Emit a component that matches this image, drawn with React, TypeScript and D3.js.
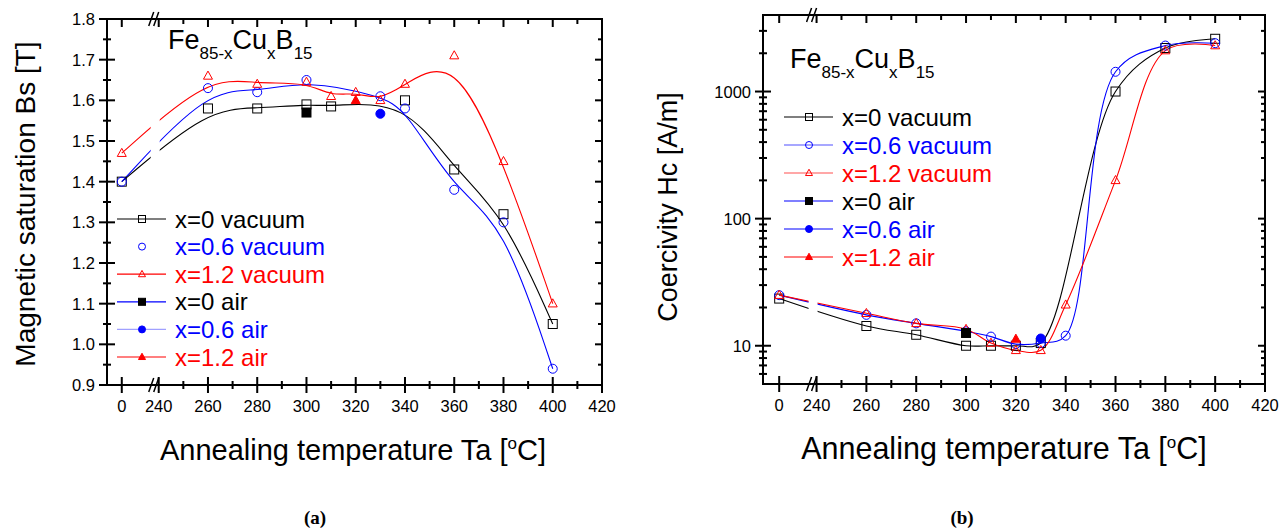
import React from 'react'
import * as d3 from 'd3'

// annealing temperatures in °C, 0 = as-quenched (drawn left of the axis break)
const xMajor = [0, 240, 260, 280, 300, 320, 340, 360, 380, 400, 420]
const xMinor = [250, 270, 290, 310, 330, 350, 370, 390, 410]

// (a) saturation Bs [T]
const bsTempX0 = [0, 260, 280, 300, 310, 340, 360, 380, 400]
const bsValX0 = [1.40, 1.58, 1.58, 1.59, 1.585, 1.60, 1.43, 1.32, 1.05]
const bsTempX06 = [0, 260, 280, 300, 330, 340, 360, 380, 400]
const bsValX06 = [1.40, 1.63, 1.62, 1.65, 1.61, 1.58, 1.38, 1.30, 0.94]
const bsTempX12 = [0, 260, 280, 300, 310, 320, 330, 340, 360, 380, 400]
const bsValX12 = [1.47, 1.66, 1.64, 1.645, 1.61, 1.62, 1.60, 1.64, 1.71, 1.45, 1.10]
const bsAirTemp = [300, 330, 320]
const bsAirVal = [1.57, 1.567, 1.60]
const bsTicks = [0.9, 1.0, 1.1, 1.2, 1.3, 1.4, 1.5, 1.6, 1.7, 1.8]
const bsMinor = [0.95, 1.05, 1.15, 1.25, 1.35, 1.45, 1.55, 1.65, 1.75]

// (b) coercivity Hc [A/m]
const hcTempX0 = [0, 260, 280, 300, 310, 320, 330, 360, 380, 400]
const hcValX0 = [23.5, 14.3, 12.2, 10, 10, 10, 10.5, 1000, 2200, 2600]
const hcTempX06 = [0, 260, 280, 300, 310, 320, 330, 340, 360, 380, 400]
const hcValX06 = [25, 17.5, 15, 13, 11.8, 10.3, 10.5, 12, 1430, 2300, 2400]
const hcTempX12 = [0, 260, 280, 300, 310, 320, 330, 340, 360, 380, 400]
const hcValX12 = [25, 18, 15, 13.5, 10.5, 9.2, 9.2, 21, 200, 2100, 2300]
const hcAirTemp = [300, 330, 320]
const hcAirVal = [12.6, 11.4, 11.3]
const hcTicks = [10, 100, 1000]
const hcMinor = [6, 7, 8, 9, 20, 30, 40, 50, 60, 70, 80, 90, 200, 300, 400, 500, 600, 700, 800, 900, 2000, 3000]

const legendLabels = ['x=0 vacuum', 'x=0.6 vacuum', 'x=1.2 vacuum', 'x=0 air', 'x=0.6 air', 'x=1.2 air']

const FONT = '"Liberation Sans", Arial, sans-serif'
const BLUE = '#0000ff'
const RED = '#ff0000'

type Mark = 'square' | 'circle' | 'triangle'

function Marker({ type, cx, cy, s, color, filled }: { type: Mark; cx: number; cy: number; s: number; color: string; filled: boolean }) {
  const fill = filled ? color : 'none'
  if (type === 'square')
    return <rect x={cx - s / 2} y={cy - s / 2} width={s} height={s} fill={fill} stroke={color} strokeWidth={1} />
  if (type === 'circle')
    return <circle cx={cx} cy={cy} r={s / 2} fill={fill} stroke={color} strokeWidth={1} />
  const h = s * 0.9
  return <polygon points={`${cx},${cy - h * 0.6} ${cx - s / 2},${cy + h * 0.4} ${cx + s / 2},${cy + h * 0.4}`} fill={fill} stroke={color} strokeWidth={1} />
}

type Series = { temps: number[]; vals: number[]; color: string; mark: Mark; filled: boolean; line: boolean }
type LegendRow = { line: string | null; mark: Mark; mcolor: string; tcolor: string; filled: boolean; text: string }

type PanelProps = {
  id: string
  box: { l: number; r: number; t: number; b: number }
  x0: number
  y: d3.ScaleContinuousNumeric<number, number>
  yTicks: number[]
  yMinor: number[]
  yFmt: (v: number) => string
  series: Series[]
  curve: d3.CurveFactory
  legend: LegendRow[]
  leg: { x: number; y: number; dy: number }
  title: { x: number; y: number }
  yTitle: { x: number; y: number; size: number; text: string }
  xTitle: { x: number; y: number; size: number }
  tag: { x: number; text: string }
}

function Panel(p: PanelProps) {
  const { l, r, t, b } = p.box
  const x = d3.scaleLinear().domain([p.x0, 420]).range([l, r])
  const tx = (v: number) => x(v === 0 ? 225 : v)
  const brk = x(240) - 4
  const line = d3.line<[number, number]>().x(d => tx(d[0])).y(d => p.y(d[1])).curve(p.curve)

  // tick rectangles: [x, y, w, h]
  const w = 2
  const bars: number[][] = [
    ...xMajor.flatMap(v => [[tx(v) - w / 2, b - 8, w, 16], [tx(v) - w / 2, t, w, 8]]),
    ...xMinor.flatMap(v => [[tx(v) - w / 2, b - 4, w, 8], [tx(v) - w / 2, t, w, 5]]),
    ...p.yTicks.flatMap(v => [[l - 8, p.y(v) - w / 2, 16, w], [r - 7, p.y(v) - w / 2, 7, w]]),
    ...p.yMinor.flatMap(v => [[l - 4, p.y(v) - w / 2, 8, w], [r - 4, p.y(v) - w / 2, 4, w]]),
  ]
  const slashes = [b, t].map(yy => `M${brk - 6},${yy + 7}L${brk - 1},${yy - 7}M${brk - 1},${yy + 7}L${brk + 4},${yy - 7}`).join('')

  return (
    <g fontFamily={FONT}>
      <defs>
        <clipPath id={p.id + '-clip'}>
          <rect x={l} y={t} width={brk - 4 - l} height={b - t} />
          <rect x={brk + 5} y={t} width={r - brk - 5} height={b - t} />
        </clipPath>
      </defs>

      <g clipPath={`url(#${p.id}-clip)`}>
        {p.series.filter(s => s.line).map((s, i) => (
          <path key={i} d={line(s.temps.map((tt, k) => [tt, s.vals[k]] as [number, number])) || ''} fill="none" stroke={s.color} strokeWidth={1.1} />
        ))}
      </g>
      {p.series.map((s, i) => s.temps.map((tt, k) => (
        <Marker key={i + '-' + k} type={s.mark} cx={tx(tt)} cy={p.y(s.vals[k])} s={9} color={s.color} filled={s.filled} />
      )))}

      <rect x={l} y={t} width={r - l} height={b - t} fill="none" stroke="#000" strokeWidth={2} />
      {bars.map((d, i) => (
        <rect key={'tk' + i} x={d[0]} y={d[1]} width={d[2]} height={d[3]} fill="#000" />
      ))}
      <path d={slashes} fill="none" stroke="#000" strokeWidth={1.5} />

      <g fontSize={16.5} fill="#000">
        {xMajor.map(v => (
          <text key={'xl' + v} x={tx(v)} y={b + 27} textAnchor="middle">{v}</text>
        ))}
        {p.yTicks.map(v => (
          <text key={'yl' + v} x={l - 12} y={p.y(v) + 6} textAnchor="end">{p.yFmt(v)}</text>
        ))}
      </g>

      <text x={p.title.x} y={p.title.y} fontSize={27}>
        Fe<tspan dy={10} fontSize={17}>85-x</tspan>
        <tspan dy={-10} fontSize={27}>Cu</tspan>
        <tspan dy={10} fontSize={17}>x</tspan>
        <tspan dy={-10} fontSize={27}>B</tspan>
        <tspan dy={10} fontSize={17}>15</tspan>
      </text>

      {p.legend.map((row, i) => {
        const cy = p.leg.y + i * p.leg.dy
        return (
          <g key={'lg' + i}>
            {row.line && <line x1={p.leg.x} x2={p.leg.x + 49} y1={cy} y2={cy} stroke={row.line} strokeWidth={1.2} />}
            <Marker type={row.mark} cx={p.leg.x + 25} cy={cy} s={7} color={row.mcolor} filled={row.filled} />
            <text x={p.leg.x + 58} y={cy + 8.5} fontSize={24} fill={row.tcolor}>{row.text}</text>
          </g>
        )
      })}

      <text transform={`translate(${p.yTitle.x},${p.yTitle.y}) rotate(-90)`} textAnchor="middle" fontSize={p.yTitle.size}>{p.yTitle.text}</text>
      <text x={p.xTitle.x} y={p.xTitle.y} textAnchor="middle" fontSize={p.xTitle.size}>
        Annealing temperature Ta [<tspan dy={-11} fontSize={17}>o</tspan><tspan dy={11}>C]</tspan>
      </text>
      <text x={p.tag.x} y={524} textAnchor="middle" fontSize={19} fontWeight="bold" fontFamily='"Liberation Serif", "Times New Roman", serif'>
        ({p.tag.text})
      </text>
    </g>
  )
}

export default function App() {
  const yBs = d3.scaleLinear().domain([0.9, 1.8]).range([385, 19])
  const yHc = d3.scaleLog().domain([5, 4000]).range([384, 15])

  const bsSeries: Series[] = [
    { temps: bsTempX0, vals: bsValX0, color: '#000', mark: 'square', filled: false, line: true },
    { temps: bsTempX06, vals: bsValX06, color: BLUE, mark: 'circle', filled: false, line: true },
    { temps: bsTempX12, vals: bsValX12, color: RED, mark: 'triangle', filled: false, line: true },
    { temps: [bsAirTemp[0]], vals: [bsAirVal[0]], color: '#000', mark: 'square', filled: true, line: false },
    { temps: [bsAirTemp[1]], vals: [bsAirVal[1]], color: BLUE, mark: 'circle', filled: true, line: false },
    { temps: [bsAirTemp[2]], vals: [bsAirVal[2]], color: RED, mark: 'triangle', filled: true, line: false },
  ]
  const hcSeries: Series[] = [
    { temps: hcTempX0, vals: hcValX0, color: '#000', mark: 'square', filled: false, line: true },
    { temps: hcTempX06, vals: hcValX06, color: BLUE, mark: 'circle', filled: false, line: true },
    { temps: hcTempX12, vals: hcValX12, color: RED, mark: 'triangle', filled: false, line: true },
    { temps: [hcAirTemp[0]], vals: [hcAirVal[0]], color: '#000', mark: 'square', filled: true, line: false },
    { temps: [hcAirTemp[1]], vals: [hcAirVal[1]], color: BLUE, mark: 'circle', filled: true, line: false },
    { temps: [hcAirTemp[2]], vals: [hcAirVal[2]], color: RED, mark: 'triangle', filled: true, line: false },
  ]

  const legA: LegendRow[] = [
    { line: '#000', mark: 'square', mcolor: '#000', tcolor: '#000', filled: false, text: legendLabels[0] },
    { line: null, mark: 'circle', mcolor: BLUE, tcolor: BLUE, filled: false, text: legendLabels[1] },
    { line: RED, mark: 'triangle', mcolor: RED, tcolor: RED, filled: false, text: legendLabels[2] },
    { line: BLUE, mark: 'square', mcolor: '#000', tcolor: '#000', filled: true, text: legendLabels[3] },
    { line: '#a0a0ff', mark: 'circle', mcolor: BLUE, tcolor: BLUE, filled: true, text: legendLabels[4] },
    { line: RED, mark: 'triangle', mcolor: RED, tcolor: RED, filled: true, text: legendLabels[5] },
  ]
  const legB: LegendRow[] = [
    { line: '#000', mark: 'square', mcolor: '#000', tcolor: '#000', filled: false, text: legendLabels[0] },
    { line: '#5050ff', mark: 'circle', mcolor: BLUE, tcolor: BLUE, filled: false, text: legendLabels[1] },
    { line: '#ff5050', mark: 'triangle', mcolor: RED, tcolor: RED, filled: false, text: legendLabels[2] },
    { line: BLUE, mark: 'square', mcolor: '#000', tcolor: '#000', filled: true, text: legendLabels[3] },
    { line: BLUE, mark: 'circle', mcolor: BLUE, tcolor: BLUE, filled: true, text: legendLabels[4] },
    { line: RED, mark: 'triangle', mcolor: RED, tcolor: RED, filled: true, text: legendLabels[5] },
  ]

  return (
    <svg width={1288} height={531} style={{ position: 'absolute', left: 0, top: 0, background: '#fff' }}>
      <Panel
        id="bs"
        box={{ l: 107, r: 602, t: 19, b: 385 }}
        x0={219}
        y={yBs}
        yTicks={bsTicks}
        yMinor={bsMinor}
        yFmt={d3.format('.1f')}
        series={bsSeries}
        curve={d3.curveBasis}
        legend={legA}
        leg={{ x: 117, y: 219, dy: 27.6 }}
        title={{ x: 168, y: 49 }}
        yTitle={{ x: 35, y: 204, size: 28, text: 'Magnetic saturation Bs [T]' }}
        xTitle={{ x: 353, y: 460, size: 29 }}
        tag={{ x: 315, text: 'a' }}
      />
      <Panel
        id="hc"
        box={{ l: 763, r: 1265, t: 15, b: 384 }}
        x0={218.5}
        y={yHc}
        yTicks={hcTicks}
        yMinor={hcMinor}
        yFmt={d3.format('d')}
        series={hcSeries}
        curve={d3.curveCatmullRom}
        legend={legB}
        leg={{ x: 784, y: 117, dy: 28 }}
        title={{ x: 790, y: 68 }}
        yTitle={{ x: 677, y: 207, size: 27, text: 'Coercivity Hc [A/m]' }}
        xTitle={{ x: 1004, y: 459, size: 30.5 }}
        tag={{ x: 962, text: 'b' }}
      />
    </svg>
  )
}
